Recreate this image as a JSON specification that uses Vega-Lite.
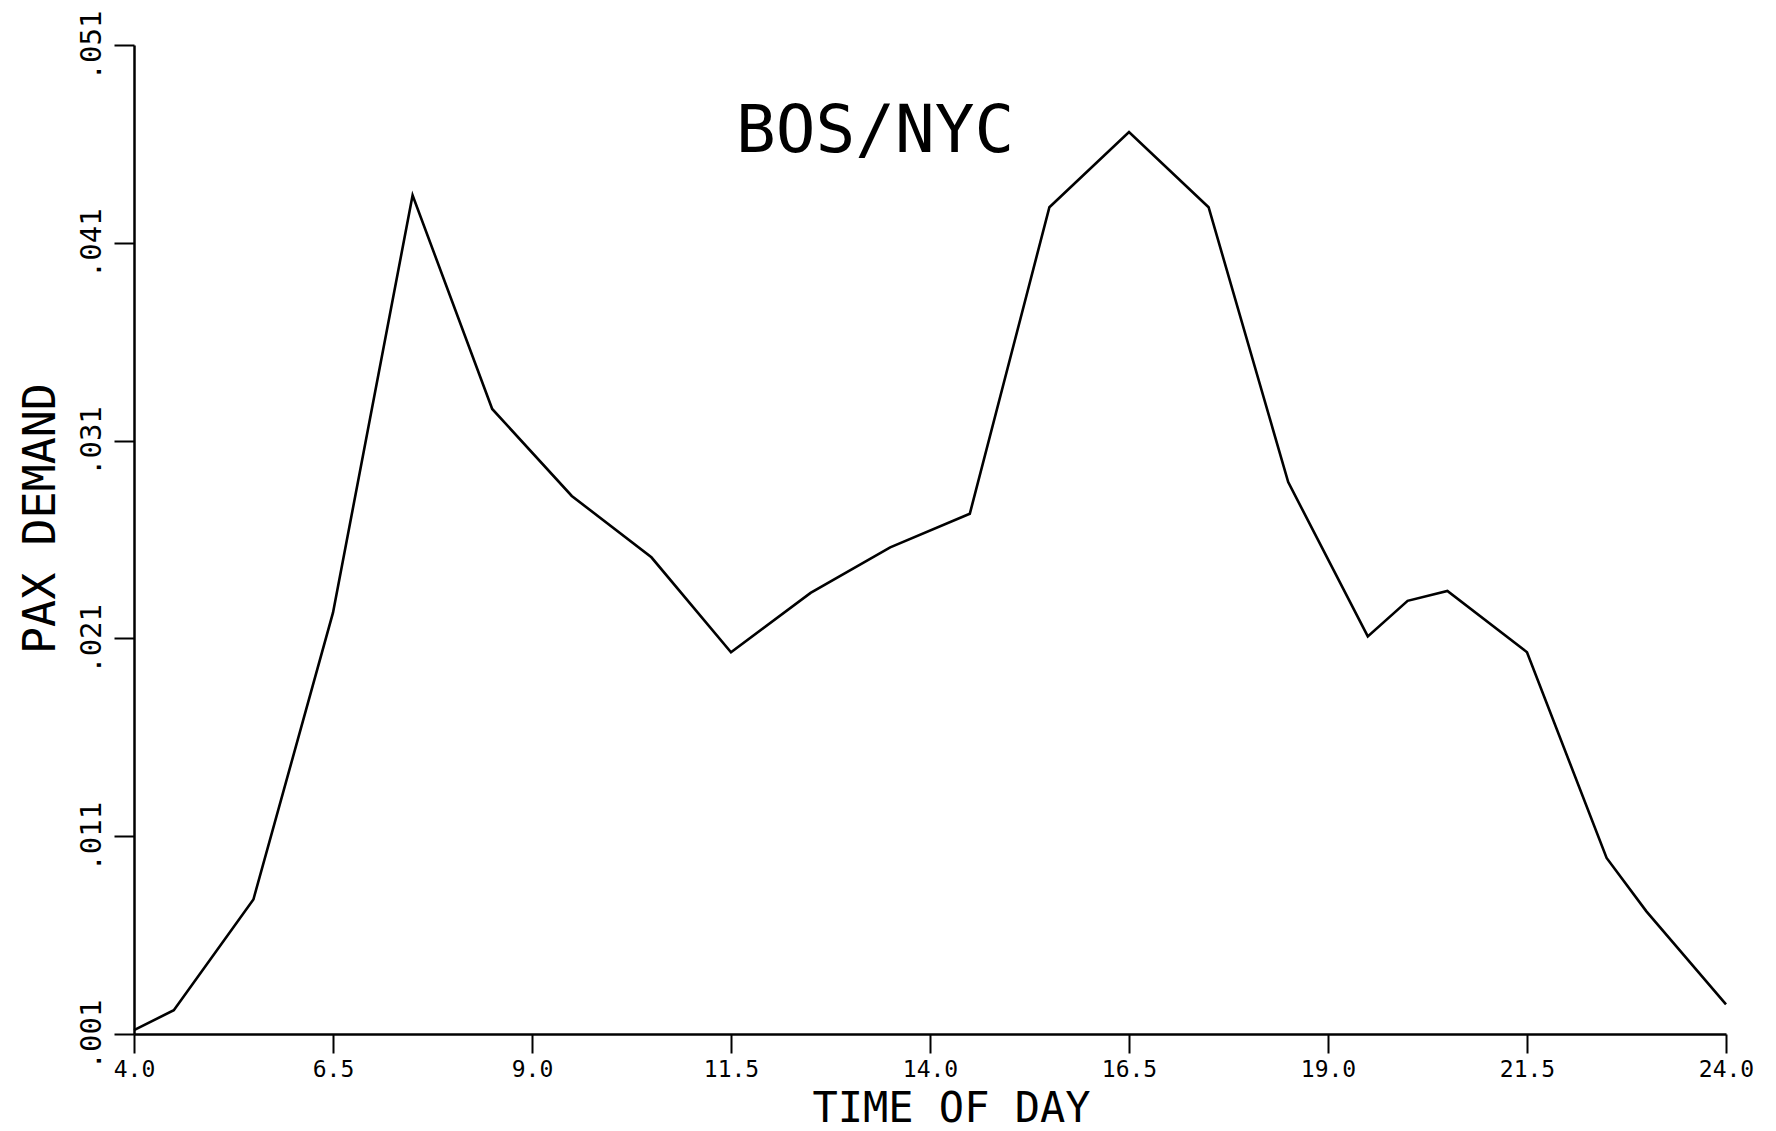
{
  "$schema": "https://vega.github.io/schema/vega-lite/v6.json",
  "width": 1592,
  "height": 989,
  "autosize": {"type": "none"},
  "padding": {"left": 134, "top": 45, "right": 50, "bottom": 97},
  "background": "white",
  "config": {"view": {"stroke": null}, "font": "DejaVu Sans Mono"},
  "data": {
    "values": [
      {"time": 4.0, "demand": 0.0012},
      {"time": 4.5, "demand": 0.0022},
      {"time": 5.5, "demand": 0.0078},
      {"time": 6.5, "demand": 0.0223},
      {"time": 7.5, "demand": 0.0434},
      {"time": 8.5, "demand": 0.0326},
      {"time": 9.5, "demand": 0.0282},
      {"time": 10.5, "demand": 0.0251},
      {"time": 11.5, "demand": 0.0203},
      {"time": 12.5, "demand": 0.0233},
      {"time": 13.5, "demand": 0.0256},
      {"time": 14.5, "demand": 0.0273},
      {"time": 15.5, "demand": 0.0428},
      {"time": 16.5, "demand": 0.0466},
      {"time": 17.5, "demand": 0.0428},
      {"time": 18.5, "demand": 0.0289},
      {"time": 19.5, "demand": 0.0211},
      {"time": 20.0, "demand": 0.0229},
      {"time": 20.5, "demand": 0.0234},
      {"time": 21.5, "demand": 0.0203},
      {"time": 22.5, "demand": 0.0099},
      {"time": 23.0, "demand": 0.0072},
      {"time": 24.0, "demand": 0.0025}
    ]
  },
  "layer": [
    {
      "mark": {"type": "line", "color": "black", "strokeWidth": 2.6},
      "encoding": {
        "x": {
          "field": "time",
          "type": "quantitative",
          "scale": {"domain": [4, 24], "nice": false, "zero": false},
          "axis": {
            "values": [4, 6.5, 9, 11.5, 14, 16.5, 19, 21.5, 24],
            "format": ".1f",
            "title": "TIME OF DAY",
            "grid": false,
            "domainColor": "black",
            "domainWidth": 2.5,
            "tickColor": "black",
            "tickWidth": 2,
            "tickSize": 19,
            "labelFont": "DejaVu Sans Mono",
            "labelFontSize": 23,
            "labelColor": "black",
            "labelPadding": 5,
            "labelFlush": false,
            "labelOverlap": false,
            "titleFont": "DejaVu Sans Mono",
            "titleFontSize": 42,
            "titleFontWeight": "normal",
            "titleColor": "black",
            "titleBaseline": "alphabetic",
            "titleX": 817,
            "titleY": 87
          }
        },
        "y": {
          "field": "demand",
          "type": "quantitative",
          "scale": {"domain": [0.001, 0.051], "nice": false, "zero": false},
          "axis": {
            "values": [0.001, 0.011, 0.021, 0.031, 0.041, 0.051],
            "labelExpr": "replace(format(datum.value, '.3f'), '0.', '.')",
            "labelAngle": -90,
            "labelAlign": "center",
            "labelBaseline": "bottom",
            "title": "PAX DEMAND",
            "grid": false,
            "domainColor": "black",
            "domainWidth": 2.5,
            "tickColor": "black",
            "tickWidth": 2,
            "tickSize": 20,
            "labelFont": "DejaVu Sans Mono",
            "labelFontSize": 29,
            "labelColor": "black",
            "labelPadding": 8,
            "labelFlush": false,
            "labelOverlap": false,
            "titleFont": "DejaVu Sans Mono",
            "titleFontSize": 45,
            "titleFontWeight": "normal",
            "titleColor": "black",
            "titleAngle": -90,
            "titleAlign": "center",
            "titleBaseline": "alphabetic",
            "titleX": -80,
            "titleY": 473
          }
        }
      }
    },
    {
      "data": {"values": [{"label": "BOS/NYC"}]},
      "mark": {"type": "text", "font": "DejaVu Sans Mono", "fontSize": 66, "align": "center", "baseline": "alphabetic", "color": "black"},
      "encoding": {
        "text": {"field": "label"},
        "x": {"datum": 13.31},
        "y": {"datum": 0.0456}
      }
    }
  ]
}
